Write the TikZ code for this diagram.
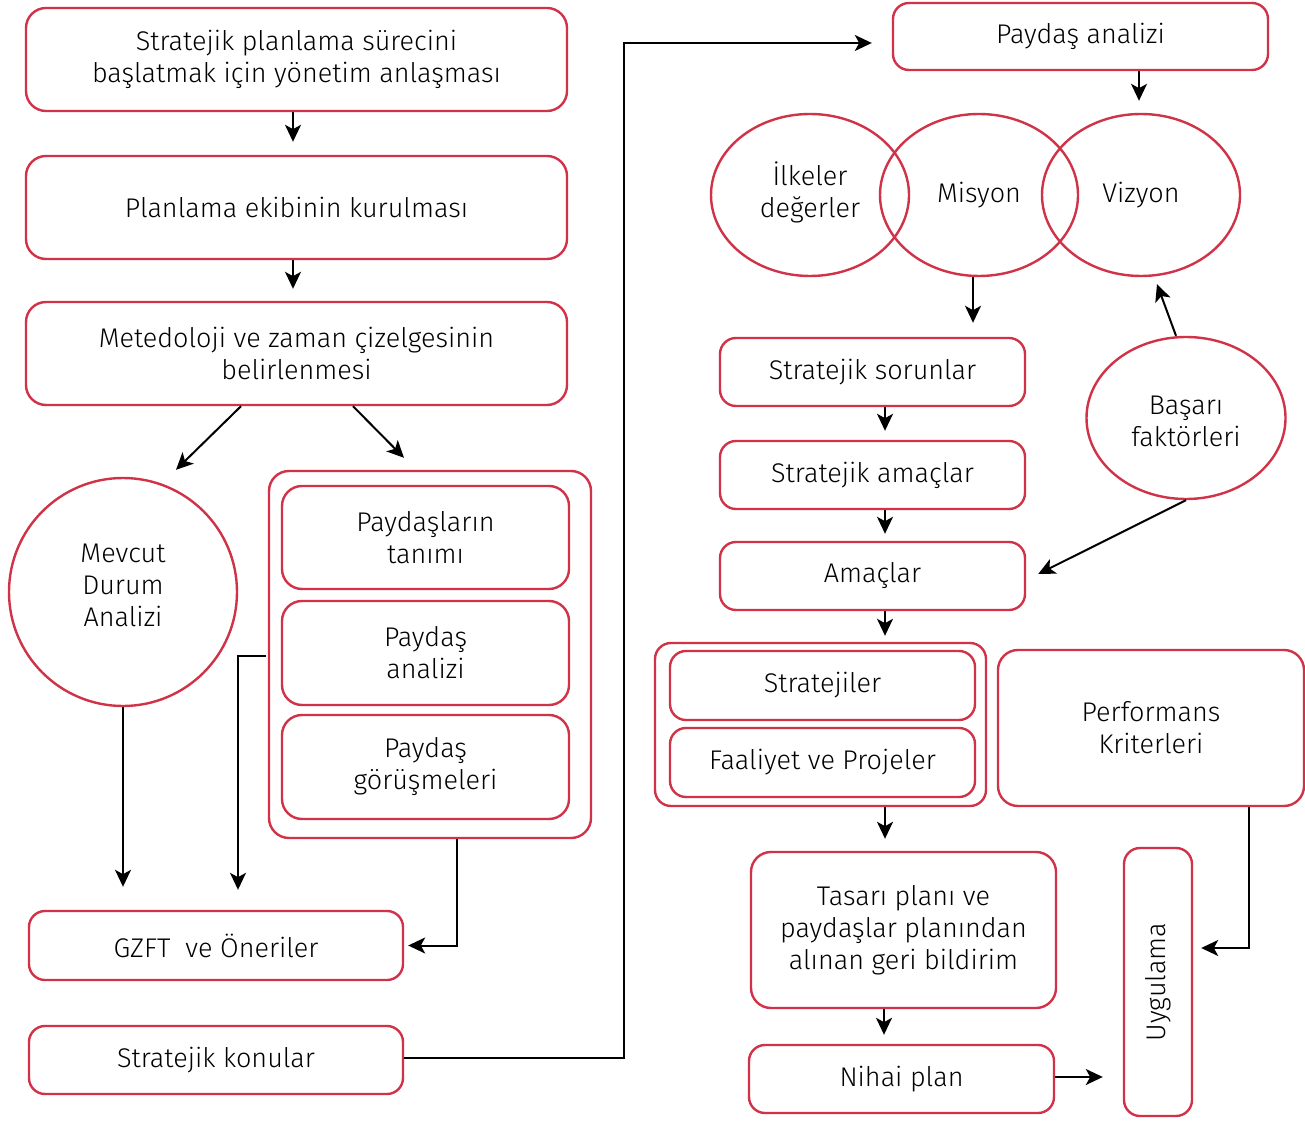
\documentclass[tikz,border=0pt]{standalone}
\usepackage{fontspec}
\setmainfont{Fira Sans Light}
\usetikzlibrary{arrows.meta,shapes.geometric}
\definecolor{boxred}{RGB}{208,50,72}
\begin{document}
\begin{tikzpicture}[x=0.5pt,y=-0.5pt,
  every node/.style={font=\fontsize{13.5pt}{16pt}\selectfont, align=center, inner sep=0pt},
  wh/.style 2 args={minimum width=#1*0.5pt, minimum height=#2*0.5pt},
  box/.style={draw=boxred, line width=1.2pt, rounded corners=10pt, rectangle},
  sbox/.style={draw=boxred, line width=1.2pt, rounded corners=8pt, rectangle},
  oval/.style={draw=boxred, line width=1.2pt, ellipse},
  arr/.style={draw=black, line width=1pt, -{Stealth[length=8.5pt,width=8pt,inset=2.2pt]}},
  ]
\useasboundingbox (0,0) rectangle (1305,1122);

% left column
\node[box, wh={541}{103}] (b1) at (296.5,59.5) {Stratejik planlama sürecini\\başlatmak için yönetim anlaşması};
\node[box, wh={541}{103}] (b2) at (296.5,207.5) {Planlama ekibinin kurulması};
\node[box, wh={541}{103}] (b3) at (296.5,353.5) {Metedoloji ve zaman çizelgesinin\\belirlenmesi};
\node[draw=boxred, line width=1.2pt, circle, minimum size=228*0.5pt] (mevcut) at (123,592) {};
\node (mevcuttext) at (123,585) {Mevcut\\Durum\\Analizi};

\node[box, wh={322}{367}] (grp1) at (430,654.5) {};
\node[box, wh={287}{103}] (p1) at (425.5,537.5) {Paydaşların\\tanımı};
\node[box, wh={287}{104}] (p2) at (425.5,653) {Paydaş\\analizi};
\node[box, wh={287}{104}] (p3) at (425.5,767) {Paydaş\\görüşmeleri};

\node[sbox, wh={374}{69}] (gzft) at (216,945.5) {GZFT \ ve Öneriler};
\node[sbox, wh={374}{68}] (konular) at (216,1060) {Stratejik konular};

% right column
\node[sbox, wh={375}{67}] (pan) at (1080.5,36.5) {Paydaş analizi};
\node[oval, wh={198}{162}] (ilke) at (810,195) {};
\node (ilketext) at (810,192) {İlkeler\\değerler};
\node[oval, wh={198}{162}] (misyon) at (979,195) {Misyon};
\node[oval, wh={198}{162}] (vizyon) at (1141,195) {Vizyon};

\node[sbox, wh={305}{68}] (sorun) at (872.5,372) {Stratejik sorunlar};
\node[sbox, wh={305}{68}] (amac) at (872.5,475) {Stratejik amaçlar};
\node[sbox, wh={305}{68}] (amaclar) at (872.5,576) {Amaçlar};
\node[oval, wh={199}{162}] (basari) at (1186,418) {};
\node (basaritext) at (1186,421) {Başarı\\faktörleri};

\node[sbox, wh={331}{163}] (grp2) at (820.5,724.5) {};
\node[sbox, wh={305}{69}] (str) at (822.5,685.5) {Stratejiler};
\node[sbox, wh={305}{69}] (fp) at (822.5,762.5) {Faaliyet ve Projeler};
\node[box, wh={306}{156}] (perf) at (1151,728) {Performans\\Kriterleri};

\node[box, wh={305}{156}] (tasari) at (903.5,930) {Tasarı planı ve\\paydaşlar planından\\alınan geri bildirim};
\node[sbox, wh={305}{68}] (nihai) at (901.5,1079) {Nihai plan};
\node[sbox, wh={68}{268}] (uyg) at (1158,982) {};
\node[rotate=90] (uygtext) at (uyg.center) {Uygulama};

% connectors, left
\draw[arr, shorten >=6.5pt] ([xshift=-1.75pt]b1.south) -- ([xshift=-1.75pt]b2.north);
\draw[arr, shorten >=6pt] ([xshift=-1.75pt]b2.south) -- ([xshift=-1.75pt]b3.north);
\draw[arr] ([xshift=-27.75pt]b3.south) -- ([xshift=26.5pt,yshift=3.5pt]mevcut.north);
\draw[arr] ([xshift=28.25pt]b3.south) -- ([xshift=-13pt,yshift=6pt]grp1.north);
\draw[arr, shorten >=11.5pt] (mevcut.south) -- (mevcut.south |- gzft.north);
\coordinate (g1bend) at (238,655.5);
\draw[arr, shorten >=10pt] ([xshift=-1pt,yshift=-0.5pt]grp1.west) -- (g1bend) -- (g1bend |- gzft.north);
\draw[arr] ([xshift=13.5pt]grp1.south) |- ([xshift=2pt]gzft.east);
\coordinate (kbend) at (624,1058);
\draw[arr, shorten >=10pt] (konular.east |- kbend) -- (kbend) |- ([yshift=-3.25pt]pan.west);

% connectors, right
\draw[arr, shorten >=6pt] ([xshift=29.25pt]pan.south) -- ([xshift=-1pt]vizyon.north);
\draw[arr, shorten >=7pt] ([xshift=-3pt]misyon.south) -- ([xshift=-3pt]misyon.south |- sorun.north);
\draw[arr, shorten >=4.5pt] ([xshift=6.25pt]sorun.south) -- ([xshift=6.25pt]amac.north);
\draw[arr, shorten >=3.5pt] ([xshift=6.25pt]amac.south) -- ([xshift=6.25pt]amaclar.north);
\draw[arr, shorten >=3pt] ([xshift=6.25pt]amaclar.south) -- ([xshift=32.25pt]grp2.north);
\draw[arr, shorten >=6pt] ([xshift=32.25pt]grp2.south) -- ([xshift=-9.25pt]tasari.north);
\draw[arr, shorten >=4.5pt] ([xshift=-9.75pt]tasari.south) -- ([xshift=-8.75pt]nihai.north);
\draw[arr, shorten >=10pt] ([yshift=1pt]nihai.east) -- ([yshift=1pt]nihai.east -| uyg.west);
\draw[arr] ([xshift=49pt]perf.south) |- ([xshift=4pt,yshift=17pt]uyg.east);
\draw[arr] ([xshift=-5pt]basari.north) -- ([xshift=8pt,yshift=-3.5pt]vizyon.south);
\draw[arr] (basari.south) -- ([xshift=6pt,yshift=1pt]amaclar.east);
\end{tikzpicture}
\end{document}
